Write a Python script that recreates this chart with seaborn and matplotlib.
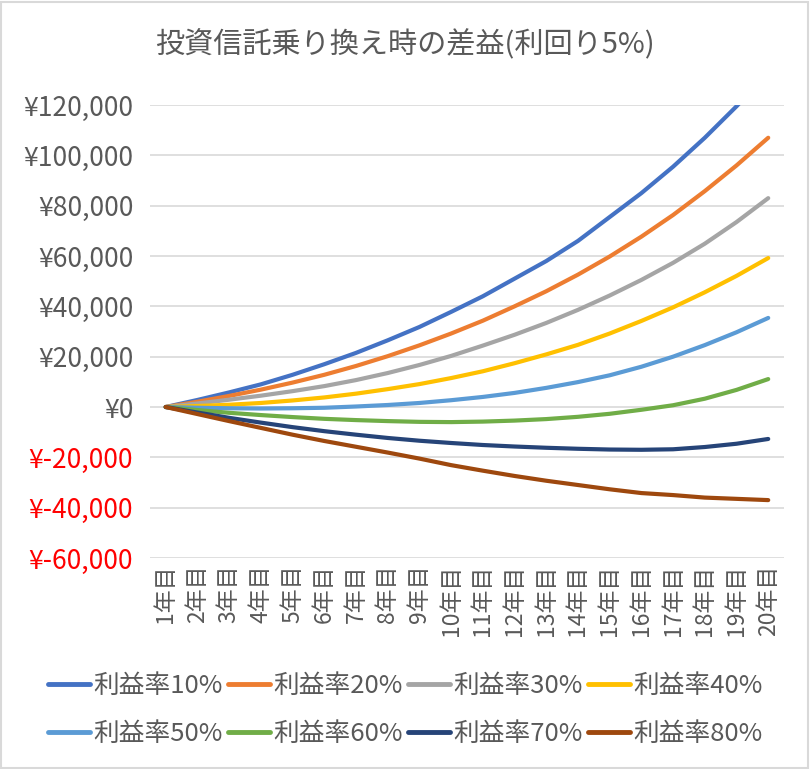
import pandas as pd
import numpy as np
import matplotlib.pyplot as plt
import seaborn as sns
from matplotlib.ticker import FuncFormatter
from matplotlib.patches import Rectangle

# -------------------------
# data
# -------------------------
years = [f"{i}年目" for i in range(1, 21)]

rate_10 = [0, 2800, 5800, 9000, 12800, 17000, 21500, 26500, 31800, 37800,
           44000, 51000, 58000, 66000, 75500, 85000, 95500, 107000, 119500, 133000]
rate_20 = [0, 2100, 4400, 6900, 9700, 12800, 16300, 20200, 24500, 29200,
           34300, 40000, 46000, 52600, 59800, 67700, 76300, 85800, 96000, 107000]
rate_30 = [0, 1400, 2900, 4500, 6300, 8300, 10700, 13500, 16700, 20300,
           24400, 28700, 33400, 38600, 44300, 50500, 57300, 64900, 73500, 83000]
rate_40 = [0, 400, 900, 1600, 2600, 3800, 5300, 7100, 9100, 11500,
           14200, 17400, 20900, 24700, 29200, 34200, 39600, 45600, 52100, 59200]
rate_50 = [0, -300, -500, -600, -500, -300, 200, 800, 1600, 2700,
           4000, 5600, 7600, 9900, 12600, 16000, 20000, 24600, 29700, 35400]
rate_60 = [0, -1200, -2300, -3200, -4000, -4700, -5200, -5600, -5900, -6000,
           -5800, -5400, -4800, -3900, -2700, -1100, 700, 3300, 6800, 11100]
rate_70 = [0, -2200, -4300, -6200, -8000, -9600, -11000, -12300, -13400, -14300,
           -15100, -15700, -16200, -16600, -16900, -17000, -16800, -15900, -14600, -12700]
rate_80 = [0, -2800, -5600, -8300, -11000, -13500, -15800, -18100, -20500, -23100,
           -25300, -27400, -29300, -31000, -32700, -34200, -35000, -36000, -36500, -37000]

series_names = ["利益率10%", "利益率20%", "利益率30%", "利益率40%",
                "利益率50%", "利益率60%", "利益率70%", "利益率80%"]
series_values = [rate_10, rate_20, rate_30, rate_40, rate_50, rate_60, rate_70, rate_80]
colors = ["#4472C4", "#ED7D31", "#A5A5A5", "#FFC000",
          "#5B9BD5", "#70AD47", "#264478", "#9E480E"]

# long-form table for seaborn
rows = []
for name, vals in zip(series_names, series_values):
    for i, v in enumerate(vals):
        rows.append({"year": i, "series": name, "value": v})
df = pd.DataFrame(rows)

# -------------------------
# plot
# -------------------------
sns.set_theme(style="white")
plt.rcParams['font.family'] = ['Noto Sans CJK JP', 'DejaVu Sans']

fig = plt.figure(figsize=(8.1, 7.69), dpi=100)
ax = fig.add_axes([0.185, 0.2744, 0.783, 0.589])

sns.lineplot(data=df, x="year", y="value", hue="series", hue_order=series_names,
             palette=colors, linewidth=3.0, ax=ax, legend=True,
             solid_capstyle="round", solid_joinstyle="round")

ax.set_ylim(-60000, 120000)
ax.set_yticks(np.arange(-60000, 120001, 20000))
ax.set_xlim(-0.5, 19.5)
ax.set_xticks(range(len(years)))
ax.set_xticklabels(years, rotation=90, fontsize=16.5, color="#595959")

def yen(v, pos):
    return f"¥{int(v):,}"
ax.yaxis.set_major_formatter(FuncFormatter(yen))
ax.tick_params(axis="y", labelsize=19, length=0, pad=12)
ax.tick_params(axis="x", length=0, pad=5)
for lbl, v in zip(ax.get_yticklabels(), ax.get_yticks()):
    lbl.set_color("#FF0000" if v < 0 else "#595959")

ax.grid(axis="y", color="#D9D9D9", linewidth=1.2)
ax.set_axisbelow(True)
for s in ax.spines.values():
    s.set_visible(False)
ax.set_xlabel("")
ax.set_ylabel("")

fig.text(0.5, 0.941, "投資信託乗り換え時の差益(利回り5%)", ha="center", va="center",
         fontsize=21, color="#595959")

# legend filled row by row (matplotlib fills column-wise)
handles, labels = ax.get_legend_handles_labels()
for h in handles:
    h.set_linewidth(3.5)
order = [0, 4, 1, 5, 2, 6, 3, 7]
ax.legend([handles[i] for i in order], [labels[i] for i in order],
          ncol=4, loc="center", bbox_to_anchor=(0.5, 0.077),
          bbox_transform=fig.transFigure, frameon=False, fontsize=18.5,
          handlelength=1.65, handletextpad=0.12, columnspacing=0.2,
          labelspacing=0.85, labelcolor="#595959")

# chart area border
fig.patches.append(Rectangle((0.001, 0.001), 0.997, 0.997, transform=fig.transFigure,
                             fill=False, edgecolor="#D9D9D9", linewidth=1.5))

plt.savefig("out.png", dpi=100)
